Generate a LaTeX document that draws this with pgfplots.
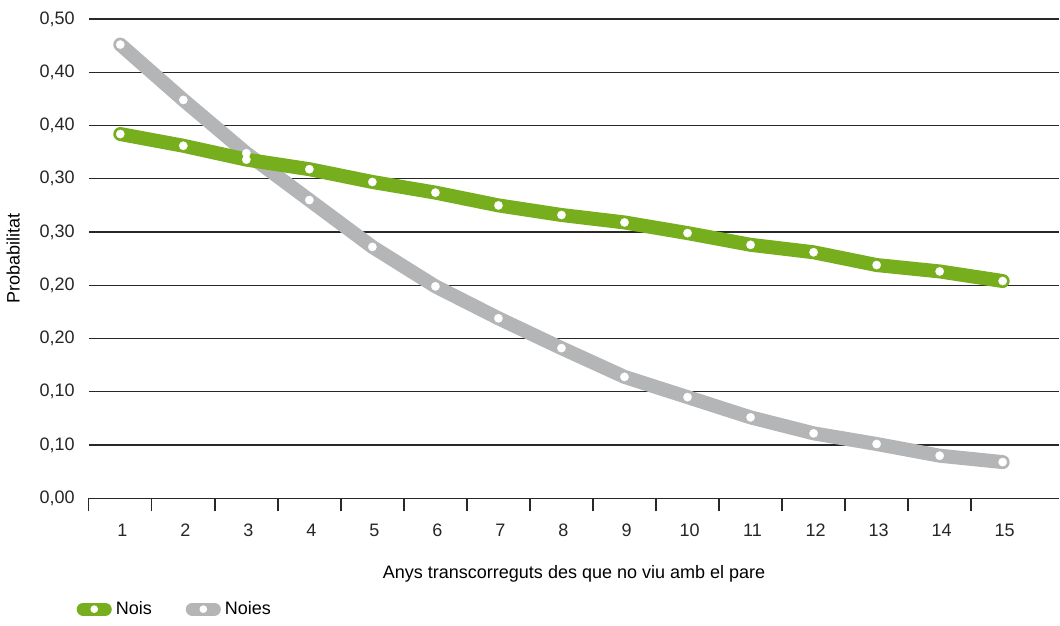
\documentclass[border=0pt]{standalone}
\usepackage{fontspec}
\setmainfont{Liberation Sans}
\usepackage{pgfplots}
\pgfplotsset{compat=1.18}

\definecolor{nois}{RGB}{118,174,30}
\definecolor{noies}{RGB}{180,181,183}
\definecolor{gridc}{RGB}{40,40,40}

\pgfplotstableread{
x nois noies
1 0.342 0.426
2 0.331 0.374
3 0.318 0.324
4 0.309 0.280
5 0.297 0.236
6 0.287 0.199
7 0.275 0.169
8 0.266 0.141
9 0.259 0.114
10 0.249 0.095
11 0.238 0.076
12 0.231 0.061
13 0.219 0.051
14 0.213 0.040
15 0.204 0.034
}\dades

\begin{document}
\begin{tikzpicture}
\begin{axis}[
    scale only axis,
    width=485pt, height=239.5pt,
    xmin=0.5, xmax=15.9,
    ymin=0, ymax=0.45,
    clip=false,
    axis line style={draw=none},
    /pgf/number format/assume math mode=true,
    xtick pos=left, ytick pos=left,
    xtick={0.5,1.5,...,14.5},
    xticklabels={},
    tick align=outside,
    major x tick style={draw=gridc, line width=0.7pt},
    major tick length=6.5pt,
    extra x ticks={1,...,15},
    extra x tick style={major tick length=0pt, xticklabel style={yshift=-9.5pt, xshift=1pt}},
    ytick={0,0.05,...,0.45},
    yticklabels={{0,00},{0,10},{0,10},{0,20},{0,20},{0,30},{0,30},{0,40},{0,40},{0,50}},
    ymajorgrids,
    major grid style={draw=gridc, line width=0.6pt},
    major y tick style={draw=none},
    yticklabel style={xshift=3pt},
    tick label style={font=\fontsize{9}{10}\selectfont, text=black!85},
    xlabel={Anys transcorreguts des que no viu amb el pare},
    ylabel={Probabilitat},
    label style={font=\fontsize{9}{10}\selectfont},
    xlabel style={yshift=-1pt},
    ylabel style={yshift=3pt},
    legend style={at={(-0.019,-0.197)}, anchor=north west, draw=none,
        font=\fontsize{9}{10}\selectfont, legend columns=2,
        /tikz/every even column/.append style={column sep=15pt}},
    legend image code/.code={
        \draw[#1, line width=6.5pt, line cap=round] (0pt,0pt) -- (11pt,0pt);
        \fill[white] (5.5pt,0pt) circle (1.7pt);
    },
    after end axis/.code={
        \path (rel axis cs:0,1) ++(0pt,9.5pt);
        \path (rel axis cs:0,0) ++(0pt,-61.5pt);
    },
]
\addplot[forget plot, draw=noies, line width=7pt, line cap=round, line join=round,
    mark=*, mark size=2.1pt, mark options={fill=white, draw=white, line width=0.1pt}]
    table[x=x, y=noies] {\dades};
\addplot[forget plot, draw=nois, line width=7pt, line cap=round, line join=round,
    mark=*, mark size=2.1pt, mark options={fill=white, draw=white, line width=0.1pt}]
    table[x=x, y=nois] {\dades};
\addlegendimage{draw=nois}
\addlegendentry{Nois}
\addlegendimage{draw=noies}
\addlegendentry{Noies}
\end{axis}
\end{tikzpicture}
\end{document}
